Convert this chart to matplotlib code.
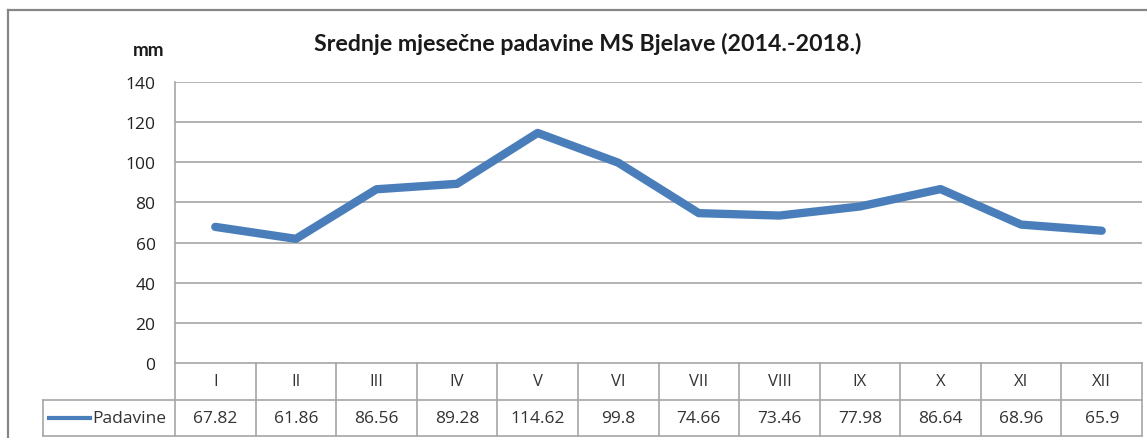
import matplotlib
matplotlib.use("Agg")
import matplotlib.pyplot as plt
from matplotlib.lines import Line2D

months = ["I", "II", "III", "IV", "V", "VI", "VII", "VIII", "IX", "X", "XI", "XII"]
padavine = [67.82, 61.86, 86.56, 89.28, 114.62, 99.8, 74.66, 73.46, 77.98, 86.64, 68.96, 65.9]
value_labels = ["67.82", "61.86", "86.56", "89.28", "114.62", "99.8", "74.66", "73.46", "77.98", "86.64", "68.96", "65.9"]
yticks = [0, 20, 40, 60, 80, 100, 120, 140]
series_name = "Padavine"
title = "Srednje mjesečne padavine MS Bjelave (2014.-2018.)"
unit = "mm"

W, H = 1147, 439
DPI = 100
fig = plt.figure(figsize=(W / DPI, H / DPI), dpi=DPI)
fig.patch.set_facecolor("white")

def fx(px):
    return px / W

def fy(py):
    return 1 - py / H

tr = fig.transFigure
# outer chart border
fig.add_artist(Line2D([fx(8), fx(8)], [fy(11), fy(439)], color="#868686", lw=1.6, transform=tr))
fig.add_artist(Line2D([fx(8), fx(1147)], [fy(11), fy(11)], color="#868686", lw=1.6, transform=tr))

L, R, T, B = 175, 1142, 83, 364
ax = fig.add_axes([fx(L), fy(B), fx(R - L), (B - T) / H])
n = len(months)
x = list(range(n))
ax.set_xlim(-0.5, n - 0.5)
ax.set_ylim(0, 140)
ax.set_yticks(yticks)
ax.set_yticklabels([str(v) for v in yticks], fontsize=12.5, family="Open Sans", color="#222222")
ax.tick_params(axis="y", length=0, pad=14)
ax.set_xticks([])
for s in ["top", "right", "bottom"]:
    ax.spines[s].set_visible(False)
ax.spines["left"].set_color("#A6A6A6")
ax.spines["left"].set_linewidth(1.2)
for v in yticks[1:]:
    ax.axhline(v, color="#A6A6A6", lw=1.2, zorder=1)

line_color = "#4A7EBB"
ax.plot(x, padavine, color=line_color, lw=6, solid_capstyle="round", solid_joinstyle="round", zorder=3)

# data table
grid_c = "#A6A6A6"
row1_top, row1_bot, row2_bot = 364, 401, 437
cw = (R - L) / n
fig.add_artist(Line2D([fx(L), fx(R)], [fy(row1_top), fy(row1_top)], color=grid_c, lw=1.2, transform=tr))
fig.add_artist(Line2D([fx(43), fx(R)], [fy(row1_bot), fy(row1_bot)], color=grid_c, lw=1.2, transform=tr))
fig.add_artist(Line2D([fx(43), fx(R)], [fy(row2_bot), fy(row2_bot)], color=grid_c, lw=1.2, transform=tr))
fig.add_artist(Line2D([fx(43), fx(43)], [fy(row1_bot), fy(row2_bot)], color=grid_c, lw=1.2, transform=tr))
for i in range(n + 1):
    xp = L + i * cw
    fig.add_artist(Line2D([fx(xp), fx(xp)], [fy(row1_top), fy(row2_bot)], color=grid_c, lw=1.2, transform=tr))

for i in range(n):
    xc = L + (i + 0.5) * cw
    fig.text(fx(xc), fy((row1_top + row1_bot) / 2), months[i], ha="center", va="center",
             fontsize=12, family="Open Sans", color="#333333")
    fig.text(fx(xc), fy((row1_bot + row2_bot) / 2), value_labels[i], ha="center", va="center",
             fontsize=12.5, family="Open Sans", color="#333333")

# legend key
fig.add_artist(Line2D([fx(49), fx(90)], [fy(419), fy(419)], color=line_color, lw=3, transform=tr))
fig.text(fx(92), fy(419), series_name, ha="left", va="center", fontsize=12.5, family="Open Sans", color="#333333")

# title and unit
fig.text(fx(588), fy(44), title, ha="center", va="center", fontsize=16.7, fontweight="bold", family="Lato", color="#1a1a1a")
fig.text(fx(149), fy(50), unit, ha="center", va="center", fontsize=13.5, fontweight="bold", family="Lato", color="#1a1a1a")

fig.savefig("out.png", dpi=DPI, facecolor="white")
